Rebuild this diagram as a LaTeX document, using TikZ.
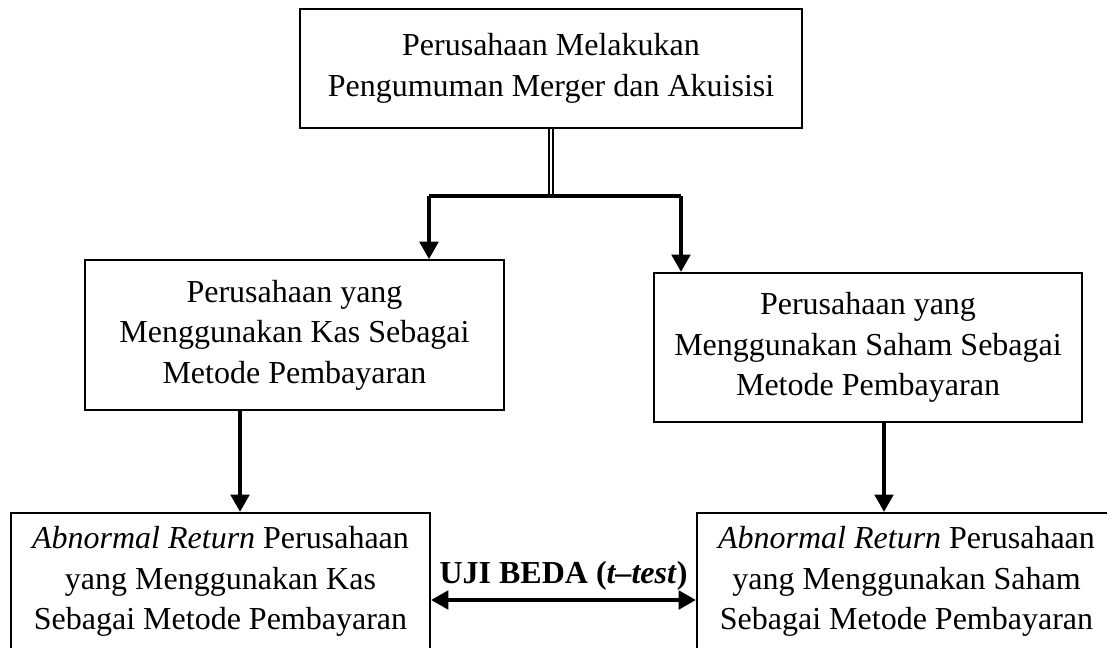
\documentclass[tikz,border=0pt]{standalone}
\usepackage{fontspec}
\setmainfont{Liberation Serif}
\usetikzlibrary{arrows.meta}

\begin{document}
\begin{tikzpicture}[x=0.375pt, y=-0.375pt,
  box/.style = {draw, line width=0.85pt, align=center, inner sep=0pt, font=\fontsize{12}{15.2}\selectfont},
  arr/.style = {line width=1.25pt, -{Triangle[length=6.5pt, width=7pt]}}]
  \useasboundingbox (0,0) rectangle (1107,647);
  \node[box, minimum width=188.25pt, minimum height=44.6pt] at (551,68.5) (umum) {Perusahaan Melakukan\\Pengumuman Merger dan Akuisisi};
  \node[box, minimum width=157.1pt, minimum height=56.1pt] at (294.5,335) (kas) {Perusahaan yang\\Menggunakan Kas Sebagai\\Metode Pembayaran};
  \node[box, minimum width=160.5pt, minimum height=55.9pt] at (868,347.5) (saham) {Perusahaan yang\\Menggunakan Saham Sebagai\\Metode Pembayaran};
  \node[box, minimum width=157.1pt, minimum height=51.4pt] at (220.5,581.5) (arkas) {\textit{Abnormal Return} Perusahaan\\yang Menggunakan Kas\\Sebagai Metode Pembayaran};
  \node[box, minimum width=157.1pt, minimum height=51.4pt] at (906.5,581.5) (arsaham) {\textit{Abnormal Return} Perusahaan\\yang Menggunakan Saham\\Sebagai Metode Pembayaran};
  \coordinate (cabang) at (551,196);
  \coordinate (kiri) at (429,196);
  \coordinate (kanan) at (681,196);
  \coordinate (turunkas) at (240,0);
  \coordinate (turunsaham) at (884,0);
  \coordinate (uji) at (0,600);
  \draw[double, line width=0.75pt, double distance=0.5pt] (umum.south) -- (cabang);
  \draw[line width=1.25pt] (kiri) -- (kanan);
  \draw[arr] (kiri) -- (kiri |- kas.north);
  \draw[arr] (kanan) -- (kanan |- saham.north);
  \draw[arr] (kas.south -| turunkas) -- (arkas.north -| turunkas);
  \draw[arr] (saham.south -| turunsaham) -- (arsaham.north -| turunsaham);
  \draw[line width=1.25pt, {Triangle[length=6.5pt, width=7pt]}-{Triangle[length=6.5pt, width=7pt]}] (arkas.east |- uji) -- node[above, inner sep=3pt, font=\bfseries\fontsize{12}{15.2}\selectfont]{UJI BEDA (\textit{t--test})} (arsaham.west |- uji);
\end{tikzpicture}
\end{document}
